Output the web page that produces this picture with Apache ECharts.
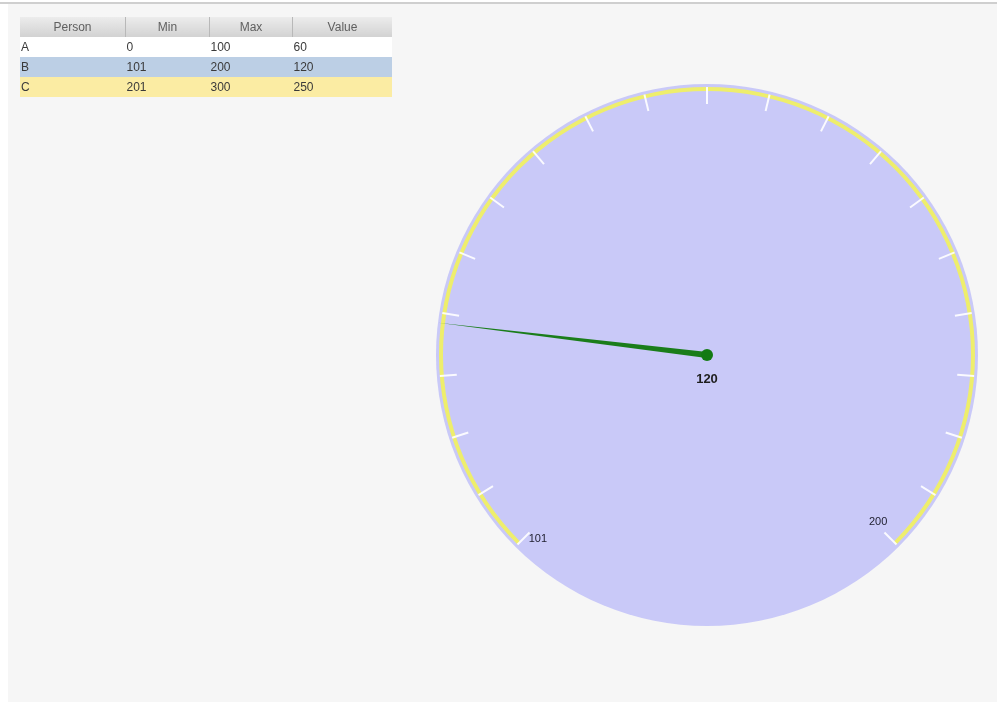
<!DOCTYPE html>
<html>
<head>
<meta charset="utf-8">
<script src="https://cdn.jsdelivr.net/npm/echarts@6/dist/echarts.min.js"></script>
<style>
  html, body { margin: 0; padding: 0; background: #ffffff; }
  #frame { position: absolute; left: 0; top: 0; width: 997px; height: 702px; overflow: hidden; }
  #topline { position: absolute; left: 0; top: 2px; width: 997px; height: 2px; background: #cfcfcf; }
  #panel { position: absolute; left: 8px; top: 4px; width: 989px; height: 698px; background: #f6f6f6; }
  #chart { position: absolute; left: 0; top: 0; width: 997px; height: 702px; }
  #grid { position: absolute; left: 20px; top: 17px; border-collapse: collapse;
          font-family: "Liberation Sans", Arial, sans-serif; font-size: 12px; color: #3a3a3a; z-index: 2; }
  #grid th { height: 20px; padding: 0; font-weight: normal; color: #606060; text-align: center;
             background: linear-gradient(#ececec, #d2d2d2); border-right: 1px solid #b8b8b8; }
  #grid th:last-child { border-right: none; }
  #grid td { height: 20px; padding: 0 0 0 1px; text-align: left; }
</style>
</head>
<body>
<div id="frame">
  <div id="topline"></div>
  <div id="panel"></div>
  <div id="chart"></div>
  <table id="grid"></table>
</div>
<script>
// Table contents
const headers = ['Person', 'Min', 'Max', 'Value'];
const persons = ['A', 'B', 'C'];
const minValues = [0, 101, 201];
const maxValues = [100, 200, 300];
const values = [60, 120, 250];
const rowColors = ['#ffffff', '#bccfe5', '#fbeca3'];
const columnWidths = [105, 83, 82, 99];
// Row shown on the dial
const selectedRow = 1;

// Build the table
const grid = document.getElementById('grid');
let html = '<tr>' + headers.map((h, i) => '<th style="width:' + columnWidths[i] + 'px">' + h + '</th>').join('') + '</tr>';
persons.forEach((p, i) => {
  html += '<tr style="background:' + rowColors[i] + '">' +
    '<td>' + p + '</td><td>' + minValues[i] + '</td><td>' + maxValues[i] + '</td><td>' + values[i] + '</td></tr>';
});
grid.innerHTML = html;

// Dial
const dialMin = minValues[selectedRow];
const dialMax = maxValues[selectedRow];
const dialValue = values[selectedRow];
const dialCenter = [707, 355];

const chart = echarts.init(document.getElementById('chart'), null, { renderer: 'canvas' });
chart.setOption({
  animation: false,
  series: [
    {
      // round face of the dial
      type: 'pie',
      z: 1,
      center: dialCenter,
      radius: [0, 271],
      silent: true,
      label: { show: false },
      labelLine: { show: false },
      itemStyle: { color: '#c9c9f8' },
      data: [{ value: 1 }]
    },
    {
      type: 'gauge',
      z: 3,
      center: dialCenter,
      radius: 268,
      min: dialMin,
      max: dialMax,
      startAngle: 225,
      endAngle: -45,
      splitNumber: 20,
      axisLine: { lineStyle: { width: 4, color: [[1, '#eeee6c']] } },
      axisTick: { show: false },
      splitLine: { length: 17, distance: -4, lineStyle: { color: 'rgba(255,255,255,0.9)', width: 2 } },
      axisLabel: {
        distance: 0,
        verticalAlign: 'middle',
        color: '#222233',
        fontSize: 11,
        fontFamily: 'Liberation Sans, Arial, sans-serif',
        formatter: function (v) {
          const r = Math.round(v);
          if (r === dialMin) return '{lo|' + r + '}';
          if (r === dialMax) return '{hi|' + r + '}';
          return '';
        },
        rich: {
          lo: { fontSize: 11, color: '#222233', padding: [8, 0, 0, 2] },
          hi: { fontSize: 11, color: '#222233', padding: [0, 0, 26, 0] }
        }
      },
      pointer: {
        icon: 'triangle',
        length: '101%',
        width: 6,
        itemStyle: { color: '#1a7d1a' }
      },
      anchor: { show: true, showAbove: true, size: 12, itemStyle: { color: '#137a13' } },
      title: { show: false },
      detail: {
        offsetCenter: [0, 24],
        fontSize: 13,
        fontWeight: 'bold',
        fontFamily: 'Liberation Sans, Arial, sans-serif',
        color: '#1e1e1e',
        formatter: '{value}'
      },
      data: [{ value: dialValue }]
    }
  ]
});
</script>
</body>
</html>
